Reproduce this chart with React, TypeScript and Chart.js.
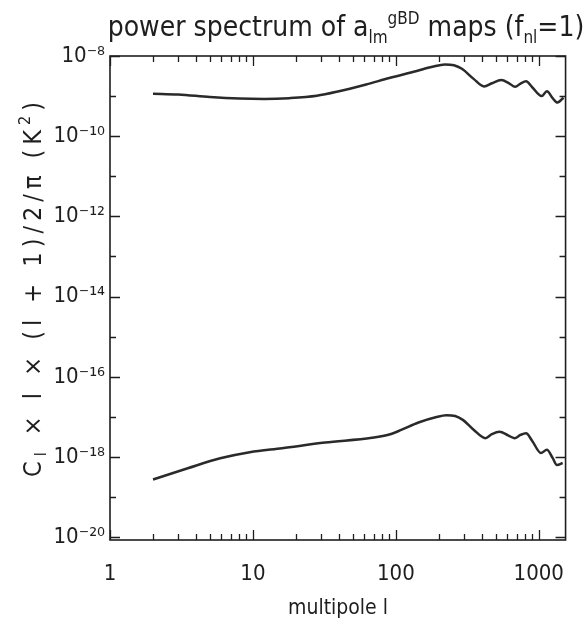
import React, { useEffect, useRef } from "react";
import { Chart, registerables } from "chart.js";

Chart.register(...registerables);

// multipole l values and C_l l(l+1)/2pi values (K^2)
const upperL = [2, 3, 5, 8, 12, 18, 28, 40, 62, 90, 138, 180, 220, 255, 290, 350, 414, 470, 546, 620, 683, 750, 815, 900, 1047, 1140, 1250, 1350, 1490];
const upperC = [1.15e-9, 1.1e-9, 9.5e-10, 8.7e-10, 8.5e-10, 8.9e-10, 1.02e-9, 1.32e-9, 1.95e-9, 2.82e-9, 4.17e-9, 5.37e-9, 6.17e-9, 5.89e-9, 4.79e-9, 2.69e-9, 1.74e-9, 2.09e-9, 2.51e-9, 2.09e-9, 1.7e-9, 2.09e-9, 2.34e-9, 1.66e-9, 1.0e-9, 1.32e-9, 8.9e-10, 6.9e-10, 9.1e-10];

const lowerL = [2, 3.5, 5.9, 9.5, 16, 32, 68, 90, 110, 144, 190, 226, 260, 296, 350, 423, 470, 532, 610, 676, 745, 815, 900, 1036, 1140, 1250, 1340, 1470];
const lowerC = [2.75e-19, 5.25e-19, 9.3e-19, 1.32e-18, 1.66e-18, 2.29e-18, 3.02e-18, 3.63e-18, 4.79e-18, 7.24e-18, 9.77e-18, 1.1e-17, 1.05e-17, 8.3e-18, 4.79e-18, 2.95e-18, 3.72e-18, 4.27e-18, 3.47e-18, 2.95e-18, 3.55e-18, 3.89e-18, 2.51e-18, 1.26e-18, 1.51e-18, 9.5e-19, 6.3e-19, 7.1e-19];

const xTickValues = [1, 10, 100, 1000];
const yTickExponents = [-8, -10, -12, -14, -16, -18, -20];

const titleText = ["power spectrum of a", "lm", "gBD", " maps (f", "nl", "=1)"];
const yTitleText = ["C", "l", " × l × (l + 1)/2/π (K", "2", ")"];
const xTitleText = "multipole l";

const FONT = "'Liberation Sans Narrow', 'DejaVu Sans Condensed', 'Liberation Sans', sans-serif";
const INK = "#1e1e1e";

const SUP: Record<string, string> = { "-": "⁻", "0": "⁰", "1": "¹", "2": "²", "3": "³", "4": "⁴", "5": "⁵", "6": "⁶", "7": "⁷", "8": "⁸", "9": "⁹" };
const sup = (s: string) => s.split("").map((c) => SUP[c] || c).join("");

type Seg = { t: string; s: number; dy: number };

function drawRich(ctx: CanvasRenderingContext2D, segs: Seg[], x: number, y: number) {
  let w = 0;
  for (const g of segs) {
    ctx.font = `${g.s}px ${FONT}`;
    w += ctx.measureText(g.t).width;
  }
  let cx = x - w / 2;
  ctx.textAlign = "left";
  ctx.textBaseline = "alphabetic";
  for (const g of segs) {
    ctx.font = `${g.s}px ${FONT}`;
    ctx.fillText(g.t, cx, y + g.dy);
    cx += ctx.measureText(g.t).width;
  }
}

const decorPlugin = {
  id: "decor",
  afterDraw(chart: any) {
    const ctx: CanvasRenderingContext2D = chart.ctx;
    const a = chart.chartArea;
    const xs = chart.scales.x;
    const ys = chart.scales.y;
    ctx.save();
    ctx.strokeStyle = INK;
    ctx.fillStyle = INK;
    ctx.lineWidth = 1.6;
    ctx.strokeRect(a.left, a.top, a.right - a.left, a.bottom - a.top);
    ctx.lineWidth = 1.3;
    ctx.beginPath();
    for (let d = 1; d <= 1000; d *= 10) {
      for (let k = 1; k <= 9; k++) {
        const v = k * d;
        if (v < xs.min || v > xs.max) continue;
        const px = Math.round(xs.getPixelForValue(v)) + 0.5;
        const len = k === 1 ? 10 : 6;
        ctx.moveTo(px, a.bottom);
        ctx.lineTo(px, a.bottom - len);
        ctx.moveTo(px, a.top);
        ctx.lineTo(px, a.top + len);
      }
    }
    for (let e = -20; e <= -8; e++) {
      const v = Math.pow(10, e);
      const py = Math.round(ys.getPixelForValue(v)) + 0.5;
      const len = e % 2 === 0 ? 10 : 6;
      ctx.moveTo(a.left, py);
      ctx.lineTo(a.left + len, py);
      ctx.moveTo(a.right, py);
      ctx.lineTo(a.right - len, py);
    }
    ctx.stroke();

    // title
    drawRich(
      ctx,
      [
        { t: titleText[0], s: 28, dy: 0 },
        { t: titleText[1], s: 17, dy: 7 },
        { t: titleText[2], s: 17, dy: -12 },
        { t: titleText[3], s: 28, dy: 0 },
        { t: titleText[4], s: 17, dy: 7 },
        { t: titleText[5], s: 28, dy: 0 },
      ],
      346,
      36
    );
    // x title
    drawRich(ctx, [{ t: xTitleText, s: 21, dy: 0 }], 338, 614);
    // y title
    ctx.translate(41, 287);
    ctx.rotate(-Math.PI / 2);
    (ctx as any).letterSpacing = "5px";
    drawRich(
      ctx,
      [
        { t: yTitleText[0], s: 25, dy: 0 },
        { t: yTitleText[1], s: 16, dy: 5 },
        { t: yTitleText[2], s: 25, dy: 0 },
        { t: yTitleText[3], s: 16, dy: -11 },
        { t: yTitleText[4], s: 25, dy: 0 },
      ],
      0,
      0
    );
    ctx.restore();
  },
};

export default function App() {
  const ref = useRef<HTMLCanvasElement | null>(null);
  useEffect(() => {
    document.body.style.margin = "0";
    const canvas = ref.current;
    if (!canvas) return;
    const chart = new Chart(canvas, {
      type: "line",
      data: {
        datasets: [
          {
            data: upperL.map((l, i) => ({ x: l, y: upperC[i] })),
            borderColor: "#2a2a2a",
            borderWidth: 2.5,
            pointRadius: 0,
            tension: 0.4,
            cubicInterpolationMode: "monotone",
            fill: false,
          },
          {
            data: lowerL.map((l, i) => ({ x: l, y: lowerC[i] })),
            borderColor: "#2a2a2a",
            borderWidth: 2.5,
            pointRadius: 0,
            tension: 0.4,
            cubicInterpolationMode: "monotone",
            fill: false,
          },
        ],
      },
      options: {
        responsive: false,
        animation: false,
        devicePixelRatio: 1,
        layout: { padding: { top: 56, right: 18, left: 0, bottom: 0 } },
        plugins: { legend: { display: false }, tooltip: { enabled: false }, title: { display: false } },
        scales: {
          x: {
            type: "logarithmic",
            min: 1,
            max: 1540,
            grid: { display: false, drawTicks: false },
            border: { display: false },
            afterBuildTicks: (s: any) => {
              s.ticks = xTickValues.map((v) => ({ value: v }));
            },
            afterFit: (s: any) => {
              s.height = 87;
            },
            ticks: {
              padding: 21,
              maxRotation: 0,
              autoSkip: false,
              color: INK,
              font: { family: FONT, size: 22 },
              callback: (v: any) => String(v),
            },
          },
          y: {
            type: "logarithmic",
            min: Math.pow(10, -20.07),
            max: 1e-8,
            grid: { display: false, drawTicks: false },
            border: { display: false },
            afterBuildTicks: (s: any) => {
              s.ticks = yTickExponents.map((e) => ({ value: Math.pow(10, e) }));
            },
            afterFit: (s: any) => {
              s.width = 110;
            },
            ticks: {
              padding: 5,
              autoSkip: false,
              color: INK,
              font: { family: FONT, size: 22 },
              callback: (v: any) => "10" + sup(String(Math.round(Math.log10(Number(v))))),
            },
          },
        },
      },
      plugins: [decorPlugin],
    } as any);
    return () => chart.destroy();
  }, []);
  return (
    <div style={{ width: 586, height: 627, background: "#fff" }}>
      <canvas ref={ref} width={586} height={627} style={{ display: "block" }} />
    </div>
  );
}
